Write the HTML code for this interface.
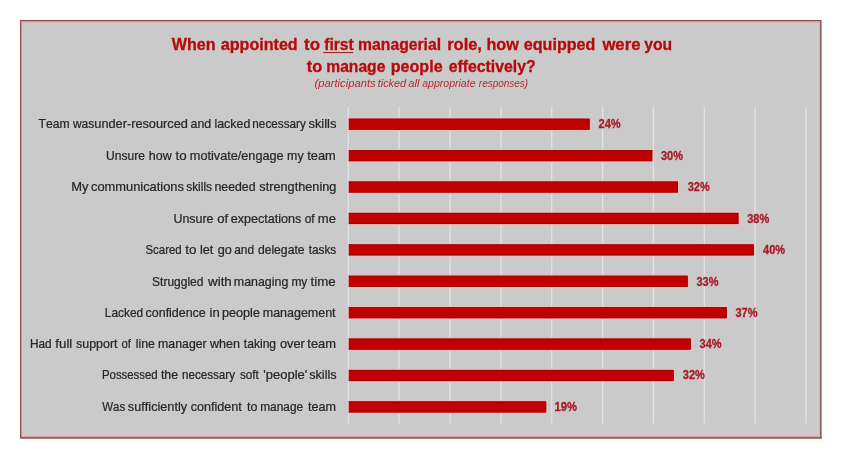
<!DOCTYPE html><html><head><meta charset="utf-8"><style>html,body{margin:0;padding:0;background:#fff;}svg{display:block;will-change:transform;}text{font-kerning:none;white-space:pre;}</style></head><body>
<svg width="847" height="461" viewBox="0 0 847 461">
<rect x="0" y="0" width="847" height="461" fill="#fff"/>
<g shape-rendering="crispEdges">
<rect x="20" y="20" width="802" height="419" fill="#cacaca"/>
<rect x="21" y="22" width="799" height="1" fill="#d2b4b4"/>
<rect x="21" y="21" width="799" height="1" fill="#d29c9c"/>
<rect x="21" y="436" width="799" height="1" fill="#dca6a6"/>
<rect x="21" y="21" width="1" height="416" fill="#c89a9a"/>
<rect x="819" y="21" width="1" height="416" fill="#cbbcc0"/>
<rect x="20" y="20" width="802" height="1" fill="#8a4a4a"/>
<rect x="20" y="20" width="1" height="419" fill="#8a4c4c"/>
<rect x="820" y="20" width="1" height="419" fill="#8e5656"/>
<rect x="821" y="20" width="1" height="419" fill="#c09a9a"/>
<rect x="20" y="437" width="802" height="1" fill="#9a5858"/>
<rect x="20" y="438" width="802" height="1" fill="#b08080"/>
</g>
<line x1="348.30" y1="107.0" x2="348.30" y2="423.5" stroke="#e2e2e2" stroke-width="1.3"/>
<line x1="399.16" y1="107.0" x2="399.16" y2="423.5" stroke="#e2e2e2" stroke-width="1.3"/>
<line x1="450.02" y1="107.0" x2="450.02" y2="423.5" stroke="#e2e2e2" stroke-width="1.3"/>
<line x1="500.88" y1="107.0" x2="500.88" y2="423.5" stroke="#e2e2e2" stroke-width="1.3"/>
<line x1="551.74" y1="107.0" x2="551.74" y2="423.5" stroke="#e2e2e2" stroke-width="1.3"/>
<line x1="602.60" y1="107.0" x2="602.60" y2="423.5" stroke="#e2e2e2" stroke-width="1.3"/>
<line x1="653.46" y1="107.0" x2="653.46" y2="423.5" stroke="#e2e2e2" stroke-width="1.3"/>
<line x1="704.32" y1="107.0" x2="704.32" y2="423.5" stroke="#e2e2e2" stroke-width="1.3"/>
<line x1="755.18" y1="107.0" x2="755.18" y2="423.5" stroke="#e2e2e2" stroke-width="1.3"/>
<line x1="806.04" y1="107.0" x2="806.04" y2="423.5" stroke="#e2e2e2" stroke-width="1.3"/>
<rect x="348.7" y="117.52" width="242.30" height="13.40" fill="#f4bcbc" opacity="0.8"/>
<rect x="348.7" y="118.62" width="241.00" height="11.2" fill="#c00000"/>
<path d="M348.70 119.12H589.20V129.32H348.70" fill="none" stroke="#980404" stroke-width="1" opacity="0.7"/>
<rect x="348.7" y="148.93" width="304.90" height="13.40" fill="#f4bcbc" opacity="0.8"/>
<rect x="348.7" y="150.03" width="303.60" height="11.2" fill="#c00000"/>
<path d="M348.70 150.53H651.80V160.73H348.70" fill="none" stroke="#980404" stroke-width="1" opacity="0.7"/>
<rect x="348.7" y="180.34" width="330.60" height="13.40" fill="#f4bcbc" opacity="0.8"/>
<rect x="348.7" y="181.44" width="329.30" height="11.2" fill="#c00000"/>
<path d="M348.70 181.94H677.50V192.14H348.70" fill="none" stroke="#980404" stroke-width="1" opacity="0.7"/>
<rect x="348.7" y="211.75" width="391.10" height="13.40" fill="#f4bcbc" opacity="0.8"/>
<rect x="348.7" y="212.85" width="389.80" height="11.2" fill="#c00000"/>
<path d="M348.70 213.35H738.00V223.55H348.70" fill="none" stroke="#980404" stroke-width="1" opacity="0.7"/>
<rect x="348.7" y="243.16" width="406.40" height="13.40" fill="#f4bcbc" opacity="0.8"/>
<rect x="348.7" y="244.26" width="405.10" height="11.2" fill="#c00000"/>
<path d="M348.70 244.76H753.30V254.96H348.70" fill="none" stroke="#980404" stroke-width="1" opacity="0.7"/>
<rect x="348.7" y="274.57" width="340.40" height="13.40" fill="#f4bcbc" opacity="0.8"/>
<rect x="348.7" y="275.67" width="339.10" height="11.2" fill="#c00000"/>
<path d="M348.70 276.17H687.30V286.37H348.70" fill="none" stroke="#980404" stroke-width="1" opacity="0.7"/>
<rect x="348.7" y="305.98" width="379.50" height="13.40" fill="#f4bcbc" opacity="0.8"/>
<rect x="348.7" y="307.08" width="378.20" height="11.2" fill="#c00000"/>
<path d="M348.70 307.58H726.40V317.78H348.70" fill="none" stroke="#980404" stroke-width="1" opacity="0.7"/>
<rect x="348.7" y="337.39" width="343.50" height="13.40" fill="#f4bcbc" opacity="0.8"/>
<rect x="348.7" y="338.49" width="342.20" height="11.2" fill="#c00000"/>
<path d="M348.70 338.99H690.40V349.19H348.70" fill="none" stroke="#980404" stroke-width="1" opacity="0.7"/>
<rect x="348.7" y="368.80" width="326.40" height="13.40" fill="#f4bcbc" opacity="0.8"/>
<rect x="348.7" y="369.90" width="325.10" height="11.2" fill="#c00000"/>
<path d="M348.70 370.40H673.30V380.60H348.70" fill="none" stroke="#980404" stroke-width="1" opacity="0.7"/>
<rect x="348.7" y="400.21" width="198.80" height="13.40" fill="#f4bcbc" opacity="0.8"/>
<rect x="348.7" y="401.31" width="197.50" height="11.2" fill="#c00000"/>
<path d="M348.70 401.81H545.70V412.01H348.70" fill="none" stroke="#980404" stroke-width="1" opacity="0.7"/>
<g font-family="Liberation Sans, sans-serif" font-weight="bold" font-size="16" fill="#b80a0a" stroke="#b80a0a" stroke-width="0.3">
<text x="171.83" y="49.6" textLength="43.81" lengthAdjust="spacingAndGlyphs">When</text>
<text x="220.78" y="49.6" textLength="76.93" lengthAdjust="spacingAndGlyphs">appointed</text>
<text x="304.14" y="49.6" textLength="15.97" lengthAdjust="spacingAndGlyphs">to</text>
<text x="324.28" y="49.6" textLength="29.46" lengthAdjust="spacingAndGlyphs">first</text>
<text x="358.11" y="49.6" textLength="82.95" lengthAdjust="spacingAndGlyphs">managerial</text>
<text x="447.16" y="49.6" textLength="34.79" lengthAdjust="spacingAndGlyphs">role,</text>
<text x="486.42" y="49.6" textLength="32.40" lengthAdjust="spacingAndGlyphs">how</text>
<text x="523.82" y="49.6" textLength="71.59" lengthAdjust="spacingAndGlyphs">equipped</text>
<text x="602.40" y="49.6" textLength="38.02" lengthAdjust="spacingAndGlyphs">were</text>
<text x="644.23" y="49.6" textLength="27.96" lengthAdjust="spacingAndGlyphs">you</text>
<text x="306.85" y="71.5" textLength="15.44" lengthAdjust="spacingAndGlyphs">to</text>
<text x="326.22" y="71.5" textLength="59.17" lengthAdjust="spacingAndGlyphs">manage</text>
<text x="390.79" y="71.5" textLength="51.81" lengthAdjust="spacingAndGlyphs">people</text>
<text x="448.63" y="71.5" textLength="87.03" lengthAdjust="spacingAndGlyphs">effectively?</text>
</g>
<line x1="323.2" y1="52.6" x2="353.2" y2="52.6" stroke="#9a1414" stroke-width="1"/>
<g font-family="Liberation Sans, sans-serif" font-style="italic" font-size="10" fill="#bc2630">
<text x="314.60" y="86.9" textLength="61.00" lengthAdjust="spacingAndGlyphs">(participants</text>
<text x="377.70" y="86.9" textLength="28.51" lengthAdjust="spacingAndGlyphs">ticked</text>
<text x="408.30" y="86.9" textLength="11.21" lengthAdjust="spacingAndGlyphs">all</text>
<text x="422.26" y="86.9" textLength="53.23" lengthAdjust="spacingAndGlyphs">appropriate</text>
<text x="478.83" y="86.9" textLength="49.26" lengthAdjust="spacingAndGlyphs">responses)</text>
</g>
<g font-family="Liberation Sans, sans-serif" font-size="11.9" fill="#262626" stroke="#262626" stroke-width="0.22">
<text x="38.64" y="127.5" textLength="31.05" lengthAdjust="spacingAndGlyphs">Team</text>
<text x="72.93" y="127.5" textLength="21.30" lengthAdjust="spacingAndGlyphs">was</text>
<text x="94.38" y="127.5" textLength="93.43" lengthAdjust="spacingAndGlyphs">under-resourced</text>
<text x="190.59" y="127.5" textLength="20.60" lengthAdjust="spacingAndGlyphs">and</text>
<text x="214.48" y="127.5" textLength="35.81" lengthAdjust="spacingAndGlyphs">lacked</text>
<text x="252.33" y="127.5" textLength="53.48" lengthAdjust="spacingAndGlyphs">necessary</text>
<text x="308.45" y="127.5" textLength="28.01" lengthAdjust="spacingAndGlyphs">skills</text>
<text x="105.98" y="159.5" textLength="39.05" lengthAdjust="spacingAndGlyphs">Unsure</text>
<text x="148.84" y="159.5" textLength="22.92" lengthAdjust="spacingAndGlyphs">how</text>
<text x="175.52" y="159.5" textLength="11.12" lengthAdjust="spacingAndGlyphs">to</text>
<text x="189.87" y="159.5" textLength="93.79" lengthAdjust="spacingAndGlyphs">motivate/engage</text>
<text x="287.09" y="159.5" textLength="16.53" lengthAdjust="spacingAndGlyphs">my</text>
<text x="307.22" y="159.5" textLength="28.42" lengthAdjust="spacingAndGlyphs">team</text>
<text x="71.25" y="191" textLength="17.27" lengthAdjust="spacingAndGlyphs">My</text>
<text x="90.96" y="191" textLength="92.99" lengthAdjust="spacingAndGlyphs">communications</text>
<text x="186.18" y="191" textLength="25.84" lengthAdjust="spacingAndGlyphs">skills</text>
<text x="214.49" y="191" textLength="41.09" lengthAdjust="spacingAndGlyphs">needed</text>
<text x="259.36" y="191" textLength="77.05" lengthAdjust="spacingAndGlyphs">strengthening</text>
<text x="173.56" y="222.5" textLength="39.88" lengthAdjust="spacingAndGlyphs">Unsure</text>
<text x="217.26" y="222.5" textLength="10.91" lengthAdjust="spacingAndGlyphs">of</text>
<text x="230.88" y="222.5" textLength="70.37" lengthAdjust="spacingAndGlyphs">expectations</text>
<text x="304.71" y="222.5" textLength="9.96" lengthAdjust="spacingAndGlyphs">of</text>
<text x="317.84" y="222.5" textLength="18.13" lengthAdjust="spacingAndGlyphs">me</text>
<text x="145.49" y="253.7" textLength="36.13" lengthAdjust="spacingAndGlyphs">Scared</text>
<text x="185.37" y="253.7" textLength="11.12" lengthAdjust="spacingAndGlyphs">to</text>
<text x="199.95" y="253.7" textLength="13.43" lengthAdjust="spacingAndGlyphs">let</text>
<text x="217.78" y="253.7" textLength="14.15" lengthAdjust="spacingAndGlyphs">go</text>
<text x="234.20" y="253.7" textLength="19.85" lengthAdjust="spacingAndGlyphs">and</text>
<text x="257.90" y="253.7" textLength="46.63" lengthAdjust="spacingAndGlyphs">delegate</text>
<text x="308.63" y="253.7" textLength="27.69" lengthAdjust="spacingAndGlyphs">tasks</text>
<text x="152.06" y="285.6" textLength="51.40" lengthAdjust="spacingAndGlyphs">Struggled</text>
<text x="208.13" y="285.6" textLength="23.62" lengthAdjust="spacingAndGlyphs">with</text>
<text x="233.89" y="285.6" textLength="54.40" lengthAdjust="spacingAndGlyphs">managing</text>
<text x="291.42" y="285.6" textLength="15.90" lengthAdjust="spacingAndGlyphs">my</text>
<text x="310.56" y="285.6" textLength="25.18" lengthAdjust="spacingAndGlyphs">time</text>
<text x="104.84" y="316.8" textLength="38.32" lengthAdjust="spacingAndGlyphs">Lacked</text>
<text x="145.58" y="316.8" textLength="60.16" lengthAdjust="spacingAndGlyphs">confidence</text>
<text x="209.53" y="316.8" textLength="10.21" lengthAdjust="spacingAndGlyphs">in</text>
<text x="222.00" y="316.8" textLength="37.96" lengthAdjust="spacingAndGlyphs">people</text>
<text x="262.78" y="316.8" textLength="72.80" lengthAdjust="spacingAndGlyphs">management</text>
<text x="29.94" y="348" textLength="21.71" lengthAdjust="spacingAndGlyphs">Had</text>
<text x="55.28" y="348" textLength="17.04" lengthAdjust="spacingAndGlyphs">full</text>
<text x="75.96" y="348" textLength="41.62" lengthAdjust="spacingAndGlyphs">support</text>
<text x="121.53" y="348" textLength="9.44" lengthAdjust="spacingAndGlyphs">of</text>
<text x="135.78" y="348" textLength="19.16" lengthAdjust="spacingAndGlyphs">line</text>
<text x="158.09" y="348" textLength="48.60" lengthAdjust="spacingAndGlyphs">manager</text>
<text x="209.93" y="348" textLength="29.98" lengthAdjust="spacingAndGlyphs">when</text>
<text x="243.83" y="348" textLength="32.24" lengthAdjust="spacingAndGlyphs">taking</text>
<text x="279.97" y="348" textLength="24.93" lengthAdjust="spacingAndGlyphs">over</text>
<text x="307.32" y="348" textLength="28.62" lengthAdjust="spacingAndGlyphs">team</text>
<text x="101.98" y="379.3" textLength="55.65" lengthAdjust="spacingAndGlyphs">Possessed</text>
<text x="160.92" y="379.3" textLength="17.22" lengthAdjust="spacingAndGlyphs">the</text>
<text x="181.94" y="379.3" textLength="53.08" lengthAdjust="spacingAndGlyphs">necessary</text>
<text x="239.88" y="379.3" textLength="18.99" lengthAdjust="spacingAndGlyphs">soft</text>
<text x="263.35" y="379.3" textLength="43.99" lengthAdjust="spacingAndGlyphs">&#39;people&#39;</text>
<text x="309.16" y="379.3" textLength="27.49" lengthAdjust="spacingAndGlyphs">skills</text>
<text x="102.26" y="411.2" textLength="22.94" lengthAdjust="spacingAndGlyphs">Was</text>
<text x="127.86" y="411.2" textLength="59.26" lengthAdjust="spacingAndGlyphs">sufficiently</text>
<text x="190.68" y="411.2" textLength="51.11" lengthAdjust="spacingAndGlyphs">confident</text>
<text x="247.02" y="411.2" textLength="10.39" lengthAdjust="spacingAndGlyphs">to</text>
<text x="260.22" y="411.2" textLength="42.90" lengthAdjust="spacingAndGlyphs">manage</text>
<text x="307.92" y="411.2" textLength="28.00" lengthAdjust="spacingAndGlyphs">team</text>
</g>
<g font-family="Liberation Sans, sans-serif" font-weight="bold" font-size="12" fill="#aa1a26" stroke="#aa1a26" stroke-width="0.3">
<text x="598.47" y="127.5" textLength="22.18" lengthAdjust="spacingAndGlyphs">24%</text>
<text x="661.00" y="159.5" textLength="22.04" lengthAdjust="spacingAndGlyphs">30%</text>
<text x="687.70" y="191" textLength="22.04" lengthAdjust="spacingAndGlyphs">32%</text>
<text x="747.20" y="222.5" textLength="22.04" lengthAdjust="spacingAndGlyphs">38%</text>
<text x="763.08" y="253.7" textLength="21.96" lengthAdjust="spacingAndGlyphs">40%</text>
<text x="696.40" y="285.6" textLength="22.04" lengthAdjust="spacingAndGlyphs">33%</text>
<text x="735.40" y="316.8" textLength="22.04" lengthAdjust="spacingAndGlyphs">37%</text>
<text x="699.60" y="348" textLength="22.04" lengthAdjust="spacingAndGlyphs">34%</text>
<text x="682.80" y="379.3" textLength="22.04" lengthAdjust="spacingAndGlyphs">32%</text>
<text x="554.44" y="411.2" textLength="22.50" lengthAdjust="spacingAndGlyphs">19%</text>
</g>
</svg></body></html>
